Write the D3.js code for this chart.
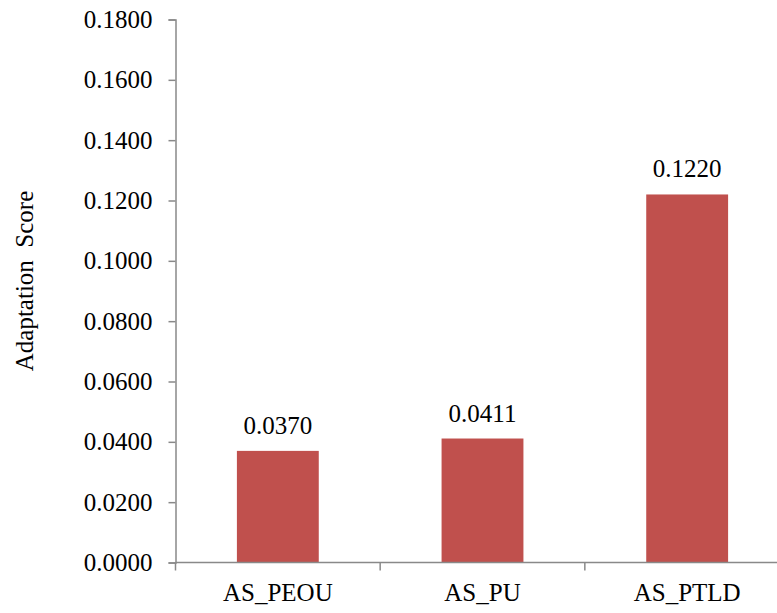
<!DOCTYPE html>
<html>
<head>
<meta charset="utf-8">
<script src="https://cdn.jsdelivr.net/npm/d3@7"></script>
<style>
  html, body { margin: 0; padding: 0; background: #fff; }
  svg text { font-family: "Liberation Serif", "Times New Roman", serif; fill: #000; }
</style>
</head>
<body>
<svg id="chart" width="777" height="613"></svg>
<script>
// Adaptation scores per construct
const categories = ["AS_PEOU", "AS_PU", "AS_PTLD"];
const scores = [0.0370, 0.0411, 0.1220];
const yTicks = [0, 0.02, 0.04, 0.06, 0.08, 0.10, 0.12, 0.14, 0.16, 0.18];
const yTitle = "Adaptation  Score";

const svg = d3.select("#chart");
const axisColor = "#898989";
const barColor = "#C0504D";
const fontSize = 25;

const plot = { left: 175.5, top: 19.5, bottom: 562.5, right: 789.5 };

const x = d3.scaleBand().domain(categories).range([plot.left, plot.right]).padding(0);
const y = d3.scaleLinear().domain([0, 0.18]).range([plot.bottom, plot.top]);
const barW = x.bandwidth() * 0.4;

// Bars
svg.append("g").selectAll("rect")
  .data(categories.map((c, i) => ({ c, v: scores[i] })))
  .join("rect")
  .attr("x", d => x(d.c) + (x.bandwidth() - barW) / 2)
  .attr("y", d => y(d.v))
  .attr("width", barW)
  .attr("height", d => y(0) - y(d.v))
  .attr("fill", barColor);

// Value labels
svg.append("g").selectAll("text")
  .data(categories.map((c, i) => ({ c, v: scores[i] })))
  .join("text")
  .attr("x", d => x(d.c) + x.bandwidth() / 2)
  .attr("y", d => y(d.v) - 17)
  .attr("text-anchor", "middle")
  .attr("font-size", fontSize)
  .text(d => d3.format(".4f")(d.v));

// Y axis
const yAxis = d3.axisLeft(y).tickValues(yTicks).tickFormat(d3.format(".4f"))
  .tickSize(7).tickPadding(16);
const gy = svg.append("g").attr("transform", `translate(${plot.left},0)`).call(yAxis);
gy.select(".domain").attr("stroke", axisColor).attr("stroke-width", 1.5);
gy.selectAll(".tick line").attr("stroke", axisColor).attr("stroke-width", 1.5);
gy.selectAll(".tick text")
  .attr("font-size", fontSize)
  .attr("font-family", "Liberation Serif, Times New Roman, serif")
  .attr("fill", "#000");

// X axis: baseline with tick marks on category boundaries
const gx = svg.append("g");
gx.append("line")
  .attr("x1", plot.left).attr("x2", plot.right)
  .attr("y1", y(0)).attr("y2", y(0))
  .attr("stroke", axisColor).attr("stroke-width", 1.5);
const boundaries = categories.map(c => x(c));
gx.selectAll("line.tk").data(boundaries).join("line")
  .attr("class", "tk")
  .attr("x1", d => d).attr("x2", d => d)
  .attr("y1", y(0)).attr("y2", y(0) + 8)
  .attr("stroke", axisColor).attr("stroke-width", 1.5);
gx.selectAll("text").data(categories).join("text")
  .attr("x", d => x(d) + x.bandwidth() / 2)
  .attr("y", 601)
  .attr("text-anchor", "middle")
  .attr("font-size", fontSize)
  .text(d => d);

// Y axis title
svg.append("text")
  .attr("transform", "translate(33,281) rotate(-90)")
  .attr("text-anchor", "middle")
  .attr("font-size", fontSize)
  .style("white-space", "pre")
  .text(yTitle);
</script>
</body>
</html>
